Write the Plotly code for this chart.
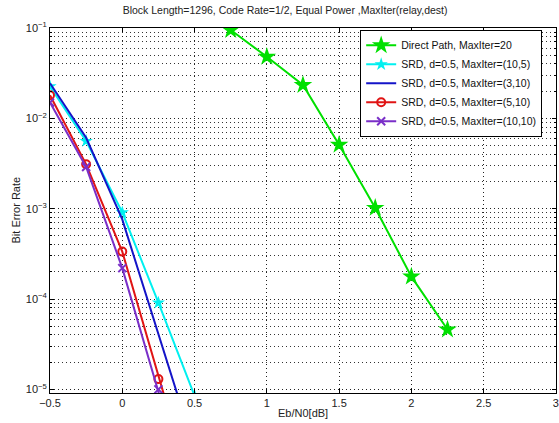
import plotly.graph_objects as go

# ---- data ----
x_direct = [0.75, 1.0, 1.25, 1.5, 1.75, 2.0, 2.25]
ber_direct = [0.095, 0.048, 0.0234, 0.0051, 0.00102, 1.77e-4, 4.6e-5]

x_srd = [-0.5, -0.25, 0.0, 0.25, 0.5]
ber_10_5 = [0.0225, 0.0056, 9.1e-4, 9.1e-5, 8.5e-6]
ber_3_10 = [0.0245, 0.0061, 7.6e-4, 4.2e-5, 2.2e-6]
ber_5_10 = [0.018, 0.0031, 3.35e-4, 1.3e-5, 6e-7]
ber_10_10 = [0.015, 0.0029, 2.2e-4, 1.0e-5, 4e-7]

names = [
    "Direct Path, MaxIter=20",
    "SRD, d=0.5, MaxIter=(10,5)",
    "SRD, d=0.5, MaxIter=(3,10)",
    "SRD, d=0.5, MaxIter=(5,10)",
    "SRD, d=0.5, MaxIter=(10,10)",
]

x_tickvals = [-0.5, 0, 0.5, 1, 1.5, 2, 2.5, 3]
x_ticktext = ["\u22120.5", "0", "0.5", "1", "1.5", "2", "2.5", "3"]
y_tickvals = [1e-5, 1e-4, 1e-3, 1e-2, 1e-1]
y_ticktext = ["10<sup>\u22125</sup>", "10<sup>\u22124</sup>", "10<sup>\u22123</sup>",
              "10<sup>\u22122</sup>", "10<sup>\u22121</sup>"]

minor_y = [m * 10.0 ** e for e in range(-6, -1) for m in range(2, 10)]

FAM = "Arial, Liberation Sans, sans-serif"

fig = go.Figure()
fig.add_trace(go.Scatter(x=x_direct, y=ber_direct, name=names[0], mode="lines+markers",
                         line=dict(color="#00e000", width=2),
                         marker=dict(symbol="star", size=14, color="#00e000")))
fig.add_trace(go.Scatter(x=x_srd, y=ber_10_5, name=names[1], mode="lines+markers",
                         line=dict(color="#00f0f0", width=2),
                         marker=dict(symbol="star", size=10, color="#00f0f0")))
fig.add_trace(go.Scatter(x=x_srd, y=ber_3_10, name=names[2], mode="lines",
                         line=dict(color="#1414c8", width=2)))
fig.add_trace(go.Scatter(x=x_srd, y=ber_5_10, name=names[3], mode="lines+markers",
                         line=dict(color="#e01414", width=2),
                         marker=dict(symbol="circle-open", size=8, color="#e01414",
                                     line=dict(width=2))))
fig.add_trace(go.Scatter(x=x_srd, y=ber_10_10, name=names[4], mode="lines+markers",
                         line=dict(color="#7a2fc8", width=2),
                         marker=dict(symbol="x-thin-open", size=8, color="#7a2fc8",
                                     line=dict(width=2, color="#7a2fc8"))))

font = dict(family=FAM, size=11, color="#222")

fig.update_layout(
    width=559, height=423,
    margin=dict(l=50, r=3, t=28, b=30, autoexpand=False),
    paper_bgcolor="white", plot_bgcolor="white",
    font=font,
    title=dict(text="Block Length=1296, Code Rate=1/2, Equal Power ,MaxIter(relay,dest)",
               x=0.51, xanchor="center", y=0.985, yanchor="top",
               font=dict(family=FAM, size=10.5, color="#222")),
    legend=dict(x=0.613, y=0.995, xanchor="left", yanchor="top",
                bgcolor="white", bordercolor="black", borderwidth=1,
                font=dict(family=FAM, size=10.5, color="#111"),
                tracegroupgap=0, itemwidth=30),
    showlegend=True,
    annotations=[
        dict(text="Eb/N0[dB]", x=0.5, y=0, xref="paper", yref="paper",
             xanchor="center", yanchor="top", yshift=-12, showarrow=False,
             font=dict(family=FAM, size=11, color="#222")),
        dict(text="Bit Error Rate", x=0, y=0.5, xref="paper", yref="paper",
             xanchor="center", yanchor="middle", xshift=-35, textangle=-90,
             showarrow=False, font=dict(family=FAM, size=11, color="#222")),
    ],
)

fig.update_xaxes(
    range=[-0.5, 3.0005], tickmode="array", tickvals=x_tickvals, ticktext=x_ticktext,
    showline=True, linecolor="black", linewidth=1, mirror="ticks",
    ticks="inside", ticklen=4, tickcolor="black",
    showgrid=True, gridcolor="#222", griddash="1px,3px", gridwidth=1,
    zeroline=False, automargin=False,
    tickfont=font,
)

fig.update_yaxes(
    type="log", range=[-5.04, -1],
    tickmode="array", tickvals=y_tickvals, ticktext=y_ticktext,
    showline=True, linecolor="black", linewidth=1, mirror="ticks",
    ticks="inside", ticklen=4, tickcolor="black",
    showgrid=True, gridcolor="#222", griddash="1px,3px", gridwidth=1,
    zeroline=False, automargin=False,
    tickfont=font,
    minor=dict(tickmode="array", tickvals=minor_y, showgrid=True, gridcolor="#333",
               griddash="1px,3px", gridwidth=1, ticks="inside", ticklen=2, tickcolor="black"),
)

fig.write_html("out.html", config={"displayModeBar": False},
               post_script="document.body.style.margin='0px';document.body.style.overflow='hidden';")
